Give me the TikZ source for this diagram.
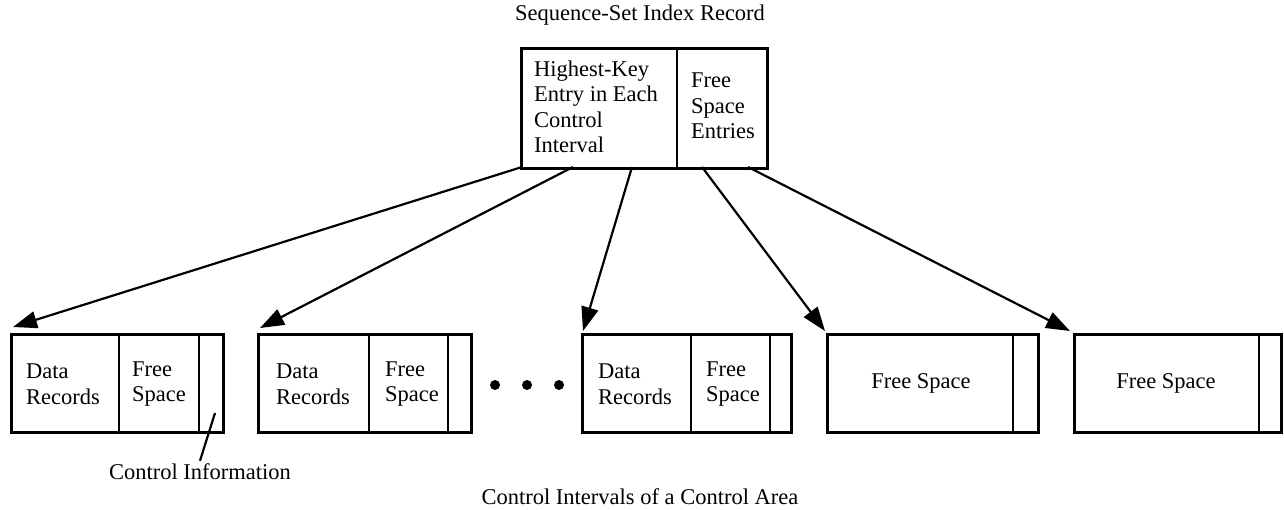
\documentclass[tikz,border=0pt]{standalone}
\usepackage{fontspec}
\setmainfont{Liberation Serif}
\usetikzlibrary{arrows.meta}
\begin{document}
\begin{tikzpicture}[x=1pt,y=-1pt,
  box/.style={draw,line width=2.8pt,inner sep=0pt,anchor=north west,minimum height=98pt},
  div/.style={line width=1.6pt},
  conn/.style={line width=2.2pt,-{Triangle[length=24pt,width=17pt]}},
  lbl/.style={font=\fontsize{22.5}{25.5}\selectfont,inner sep=0pt},
  txt/.style={lbl,align=left,anchor=west},
  dot/.style={circle,fill,inner sep=0pt,minimum size=10pt},
]
\useasboundingbox (0,0) rectangle (1284,509);

% captions
\node[lbl] (cap1) at (640,15) {Sequence-Set Index Record};
\node[lbl] (cap2) at (640,497) {Control Intervals of a Control Area};

% top index record
\node[box,minimum width=246pt,minimum height=120pt] (top) at (520,47) {};
\draw[div] (677,47) -- (677,167);
\node[txt] (hk) at (534,107) {Highest-Key\\Entry in Each\\Control\\Interval};
\node[txt] (fse) at (691,106) {Free\\Space\\Entries};

% control intervals
\node[box,minimum width=212pt] (b1) at (10,333) {};
\draw[div] (119,333) -- (119,431);
\draw[div] (199,333) -- (199,431);
\node[txt] (b1d) at (26,384) {Data\\Records};
\node[txt] (b1f) at (132,384) {Free\\Space};

\node[box,minimum width=213pt] (b2) at (257,333) {};
\draw[div] (369,333) -- (369,431);
\draw[div] (448,333) -- (448,431);
\node[txt] (b2d) at (276,384) {Data\\Records};
\node[txt] (b2f) at (385,384) {Free\\Space};

\node[dot] (d1) at (495,385) {};
\node[dot] (d2) at (527,385) {};
\node[dot] (d3) at (559,385) {};

\node[box,minimum width=209pt] (b3) at (581,333) {};
\draw[div] (691,333) -- (691,431);
\draw[div] (770,333) -- (770,431);
\node[txt] (b3d) at (598,384) {Data\\Records};
\node[txt] (b3f) at (706,384) {Free\\Space};

\node[box,minimum width=211pt] (b4) at (826,333) {};
\draw[div] (1013,333) -- (1013,431);
\node[lbl] (b4f) at (921,383) {Free Space};

\node[box,minimum width=207pt] (b5) at (1073,333) {};
\draw[div] (1259,333) -- (1259,431);
\node[lbl] (b5f) at (1166,383) {Free Space};

% arrows
\coordinate (s1) at (522,167);
\coordinate (s2) at (573,167);
\coordinate (s3) at (632,167);
\coordinate (s4) at (702,167);
\coordinate (s5) at (748,167);
\draw[conn] (s1) -- ([xshift=3pt,yshift=6pt]b1.north west);
\draw[conn] (s2) -- ([xshift=3pt,yshift=5pt]b2.north west);
\draw[conn] (s3) -- ([xshift=2pt,yshift=2pt]b3.north west);
\draw[conn] (s4) -- ([xshift=-1pt,yshift=2pt]b4.north west);
\draw[conn] (s5) -- ([xshift=-3pt,yshift=2pt]b5.north west);

% control information leader
\coordinate (ci) at (215,413);
\node[lbl] (cil) at (200,472) {Control Information};
\draw[line width=2.2pt] (ci) -- ([yshift=3pt]cil.north);
\end{tikzpicture}
\end{document}
